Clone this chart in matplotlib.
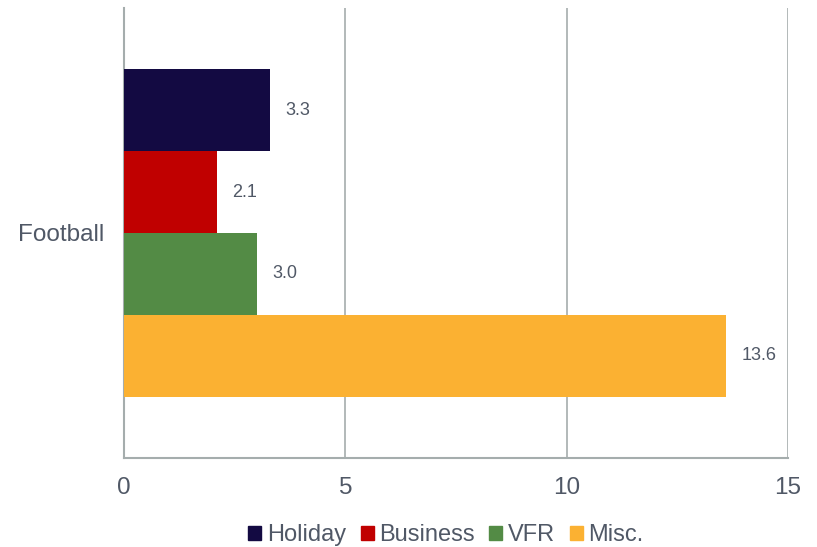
import matplotlib.pyplot as plt
from matplotlib.patches import Patch

plt.rcParams['font.family'] = ['Liberation Sans', 'DejaVu Sans']

# Data
category = 'Football'
series = ['Holiday', 'Business', 'VFR', 'Misc.']
values = [3.3, 2.1, 3.0, 13.6]
colors = ['#130A42', '#C00000', '#538B45', '#FBB132']

text_col = '#505866'
grid_col = '#A5ADAD'

fig = plt.figure(figsize=(8.17, 5.47), dpi=100)
ax = fig.add_axes([0.1518, 0.1627, 0.8127, 0.8227])

bar_h = 0.1817
n = len(series)
for i, (name, v, c) in enumerate(zip(series, values, colors)):
    y = (n - 1) / 2 * bar_h - i * bar_h
    ax.barh(y, v, height=bar_h, color=c, label=name, zorder=3)
    ax.text(v + 0.35, y, f'{v:.1f}', va='center', ha='left',
            fontsize=13, color=text_col)

ax.set_xlim(0, 15)
ax.set_ylim(-0.5, 0.5)
ax.set_xticks([0, 5, 10, 15])
ax.set_yticks([0])
ax.set_yticklabels([category])
ax.tick_params(axis='both', length=0, labelsize=17.5, colors=text_col)
ax.tick_params(axis='x', pad=14)
ax.tick_params(axis='y', pad=14)

ax.grid(axis='x', color=grid_col, linewidth=1.2, zorder=0)
for s in ['top', 'right']:
    ax.spines[s].set_visible(False)
for s in ['left', 'bottom']:
    ax.spines[s].set_color(grid_col)
    ax.spines[s].set_linewidth(1.5)

handles = [Patch(color=c, label=s) for s, c in zip(series, colors)]
fig.legend(handles=handles, loc='center', bbox_to_anchor=(0.546, 0.022),
           ncol=4, frameon=False, fontsize=17, handlelength=0.55,
           handleheight=0.55, handletextpad=0.25, columnspacing=0.6,
           labelcolor=text_col)

fig.savefig('out.png', dpi=100)
